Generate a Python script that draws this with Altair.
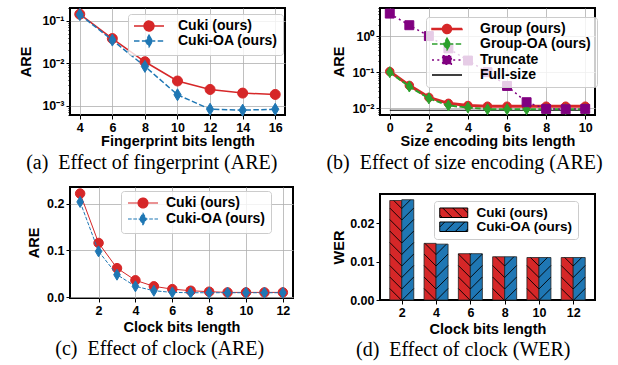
import altair as alt
import pandas as pd

# ---------------- data ----------------
# (a) fingerprint bits length vs ARE
fp_bits = [4, 6, 8, 10, 12, 14, 16]
fp_cuki = [0.143, 0.038, 0.0108, 0.0038, 0.0024, 0.00197, 0.00183]
fp_cuki_oa = [0.140, 0.035, 0.0084, 0.0018, 0.00082, 0.00078, 0.00082]

# (b) size encoding bits length vs ARE
se_bits = [0, 1, 2, 3, 4, 5, 6, 7, 8, 9, 10]
se_group = [0.104, 0.043, 0.020, 0.0137, 0.0119, 0.0114, 0.0114, 0.0114, 0.0114, 0.0114, 0.0114]
se_group_oa = [0.100, 0.040, 0.0188, 0.0119, 0.0105, 0.0094, 0.0094, 0.0094, 0.0094, 0.0094, 0.0094]
se_truncate = [4.2, 2.0, 1.0, 0.456, 0.21, 0.10, 0.0415, 0.0147, 0.0096, 0.0094, 0.0096]
se_full_size = 0.0088

# (c) clock bits length vs ARE
clk_bits = [1, 2, 3, 4, 5, 6, 7, 8, 9, 10, 11, 12]
clk_cuki = [0.222, 0.116, 0.062, 0.036, 0.023, 0.017, 0.0136, 0.0115, 0.010, 0.010, 0.010, 0.010]
clk_cuki_oa = [0.204, 0.098, 0.048, 0.023, 0.0136, 0.010, 0.0093, 0.0093, 0.0093, 0.0093, 0.0093, 0.0093]

# (d) clock bits length vs WER
wer_bits = [2, 4, 6, 8, 10, 12]
wer_cuki = [0.0260, 0.0148, 0.0121, 0.0113, 0.0111, 0.0111]
wer_cuki_oa = [0.0262, 0.0146, 0.0121, 0.0113, 0.0111, 0.0111]

# ---------------- styling ----------------
RED = "#d62728"
BLUE = "#1f77b4"
GREEN = "#2ca02c"
PURPLE = "#800080"
SANS = "Liberation Sans"
SERIF = "Liberation Serif"
GRID = "#b0b0b0"

C, COA = "Cuki (ours)", "Cuki-OA (ours)"
G, GOA, TR, FS = "Group (ours)", "Group-OA (ours)", "Truncate", "Full-size"

DIAMOND = "M0,-1L0.6,0L0,1L-0.6,0Z"

# legend glyphs: unit = 6 px (symbolSize 144)
LH = 2.5  # half line length in units (15 px)


def circ(r):
    return f"M{-r},0A{r},{r} 0 1,0 {r},0A{r},{r} 0 1,0 {-r},0Z"


L_CIRCLE = f"M{-LH},0L{LH},0" + circ(0.82)
L_THICK_CIRCLE = f"M{-LH},-0.1L{LH},-0.1L{LH},0.1L{-LH},0.1Z" + circ(0.75)
L_DIAMOND = f"M{-LH},0L{LH},0M0,-0.95L0.57,0L0,0.95L-0.57,0Z"
L_SQUARE = f"M{-LH},0L{LH},0M-0.72,-0.72L0.72,-0.72L0.72,0.72L-0.72,0.72Z"
L_LINE = f"M{-LH},0L{LH},0"


def long_df(xs, named):
    rows = []
    for name, vals in named:
        for xv, yv in zip(xs, vals):
            rows.append({"x": xv, "series": name, "y": yv})
    return pd.DataFrame(rows)


def caption(text, off):
    return alt.TitleParams(text=text, orient="bottom", anchor="middle", frame="bounds",
                           font=SERIF, fontSize=20, fontWeight="normal", color="black",
                           offset=off)


def log_axis(title, domain, ext):
    vals = []
    for e in range(-5, 2):
        for m in range(1, 10):
            v = m * 10.0 ** e
            if domain[0] <= v <= domain[1]:
                vals.append(v)
    ex = "round(log(datum.value)/LN10)"
    maj = f"abs(log(datum.value)/LN10 - {ex}) < 1e-6"
    sup = {-3: "⁻³", -2: "⁻²", -1: "⁻¹", 0: "⁰"}
    inner = " : ".join(f"{ex} == {k} ? '10{v}'" for k, v in sup.items()) + " : ''"
    return alt.Axis(title=title, values=vals, labelExpr=f"{maj} ? ({inner}) : ''",
                    tickSize={"condition": {"test": maj, "value": 4}, "value": 2},
                    gridOpacity={"condition": {"test": maj, "value": 1}, "value": 0},
                    grid=True, minExtent=ext, maxExtent=ext)


def legend_params(lx, ly, sym_off, lab_off, row_pad, sw=1.5, fs=14):
    return alt.Legend(title=None, orient="none", legendX=lx, legendY=ly, symbolSize=144,
                      fillColor="rgba(255,255,255,0.8)", strokeColor="#cccccc",
                      cornerRadius=3, padding=5, labelFont=SANS, labelFontSize=fs,
                      labelFontWeight="bold", labelColor="black", rowPadding=row_pad,
                      symbolOffset=sym_off, labelOffset=lab_off, symbolStrokeWidth=sw)


def legend_layer(df, names, fills, strokes, paths, dashes, leg):
    sc = lambda rng: alt.Scale(domain=names, range=rng)
    enc = dict(
        fill=alt.Fill("series:N", scale=sc(fills), legend=leg),
        stroke=alt.Stroke("series:N", scale=sc(strokes), legend=leg),
        shape=alt.Shape("series:N", scale=sc(paths), legend=leg),
    )
    if dashes:
        enc["strokeDash"] = alt.StrokeDash("series:N", scale=sc(dashes), legend=leg)
    return alt.Chart(df).transform_filter("false").mark_point(opacity=1, filled=True).encode(**enc)


def series_layers(df, xenc, yenc, specs):
    layers = []
    for name, color, width, dash, shape, size in specs:
        base = alt.Chart(df).transform_filter(alt.datum.series == name)
        lk = dict(color=color, strokeWidth=width)
        if dash:
            lk["strokeDash"] = dash
        layers.append(base.mark_line(**lk).encode(x=xenc, y=yenc))
        if shape:
            layers.append(base.mark_point(filled=True, opacity=1, fill=color, stroke=color,
                                          strokeWidth=1, shape=shape, size=size)
                          .encode(x=xenc, y=yenc))
    return layers


# ---------------- panel (a) ----------------
a_df = long_df(fp_bits, [(C, fp_cuki), (COA, fp_cuki_oa)])
a_y = [6.0e-4, 0.2]
a_x = alt.X("x:Q", scale=alt.Scale(domain=[3.4, 16.6], nice=False, zero=False),
            axis=alt.Axis(title="Fingerprint bits length", values=fp_bits, grid=True))
a_yenc = alt.Y("y:Q", scale=alt.Scale(type="log", domain=a_y, nice=False),
               axis=log_axis("ARE", a_y, 35.5))
a_layers = series_layers(a_df, a_x, a_yenc, [
    (C, RED, 1.5, None, "circle", 100),
    (COA, BLUE, 1.5, [5.5, 2.4], DIAMOND, 144),
])
a_layers.append(legend_layer(a_df, [C, COA], [RED, BLUE], [RED, BLUE], [L_CIRCLE, L_DIAMOND],
                             [[1, 0], [5.5, 2.4]], legend_params(58, 6, 9, 22, -4)))
panel_a = alt.layer(*a_layers).properties(
    width=215, height=107, title=caption("(a)\u00a0\u00a0Effect of fingerprint (ARE)", 4.5))

# ---------------- panel (b) ----------------
b_df = pd.concat([
    long_df(se_bits, [(G, se_group), (GOA, se_group_oa), (TR, se_truncate)]),
    long_df([se_bits[0], se_bits[-1]], [(FS, [se_full_size, se_full_size])]),
])
b_y = [0.0065, 6.0]
b_x = alt.X("x:Q", scale=alt.Scale(domain=[-0.5, 10.5], nice=False, zero=False),
            axis=alt.Axis(title="Size encoding bits length", values=[0, 2, 4, 6, 8, 10], grid=True))
b_yenc = alt.Y("y:Q", scale=alt.Scale(type="log", domain=b_y, nice=False),
               axis=log_axis("ARE", b_y, 32.5))
b_layers = series_layers(b_df, b_x, b_yenc, [
    (FS, "black", 1, None, None, 0),
    (G, RED, 3, None, "circle", 72),
    (GOA, GREEN, 2, [5.5, 2.4], DIAMOND, 121),
    (TR, PURPLE, 1.5, [2, 3.3], "square", 80),
])
b_layers.append(legend_layer(b_df, [G, GOA, TR, FS], [RED, GREEN, PURPLE, "black"],
                             [RED, GREEN, PURPLE, "black"],
                             [L_THICK_CIRCLE, L_DIAMOND, L_SQUARE, L_LINE],
                             [[1, 0], [5.5, 2.4], [2, 3.3], [1, 0]],
                             legend_params(46, 9, 9, 26, -4.8)))
panel_b = alt.layer(*b_layers).properties(
    width=215, height=107, title=caption("(b)\u00a0\u00a0Effect of size encoding (ARE)", 4.5))

# ---------------- panel (c) ----------------
c_df = long_df(clk_bits, [(C, clk_cuki), (COA, clk_cuki_oa)])
c_x = alt.X("x:Q", scale=alt.Scale(domain=[0.45, 12.55], nice=False, zero=False),
            axis=alt.Axis(title="Clock bits length", values=[2, 4, 6, 8, 10, 12], grid=True,
                          titlePadding=4))
c_yenc = alt.Y("y:Q", scale=alt.Scale(domain=[-0.002, 0.236], nice=False, zero=False),
               axis=alt.Axis(title="ARE", values=[0.0, 0.1, 0.2], format=".1f", grid=True,
                             minExtent=27.5, maxExtent=27.5))
c_layers = series_layers(c_df, c_x, c_yenc, [
    (C, RED, 1, None, "circle", 90),
    (COA, BLUE, 1, [3.7, 1.6], DIAMOND, 121),
])
c_layers.append(legend_layer(c_df, [C, COA], [RED, BLUE], [RED, BLUE], [L_CIRCLE, L_DIAMOND],
                             [[1, 0], [3.7, 1.6]], legend_params(51, 4, 10, 16, -1, sw=1.2)))
panel_c = alt.layer(*c_layers).properties(
    width=223, height=111, title=caption("(c)\u00a0\u00a0Effect of clock (ARE)", 4.5))

# ---------------- panel (d) ----------------
D_W, D_H = 215, 106
BW = 0.35
D_XDOM = [-0.635, len(wer_bits) - 1 + 0.635]
D_YDOM = [0, 0.0277]
PXX = D_W / (D_XDOM[1] - D_XDOM[0])
PXY = D_H / (D_YDOM[1] - D_YDOM[0])
HS = 11.5

d_rows = []
for i, (b, v1, v2) in enumerate(zip(wer_bits, wer_cuki, wer_cuki_oa)):
    d_rows.append({"idx": i, "series": C, "value": v1})
    d_rows.append({"idx": i, "series": COA, "value": v2})
d_df = pd.DataFrame(d_rows)

d_xs = alt.Scale(domain=D_XDOM, nice=False, zero=False)
d_ys = alt.Scale(domain=D_YDOM, nice=False)
lab = "[" + ",".join(f"'{b}'" for b in wer_bits) + "][datum.value]"
is_c = f"datum.series == '{C}'"
d_xaxis = alt.Axis(title="Clock bits length", values=list(range(len(wer_bits))),
                   labelExpr=lab, grid=False, titlePadding=4)
d_yaxis = alt.Axis(title="WER", values=[0, 0.01, 0.02], format=".2f", grid=False,
                   minExtent=32.5, maxExtent=32.5)

d_layers = []
for name, color in [(C, RED), (COA, BLUE)]:
    d_layers.append(
        alt.Chart(d_df).transform_filter(alt.datum.series == name).transform_calculate(
            x0=f"datum.idx + ({is_c} ? {-BW} : 0)",
        ).transform_calculate(
            x1=f"datum.x0 + {BW}", zero="0",
        ).mark_rect(fill=color, stroke="#222222", strokeWidth=0.8).encode(
            x=alt.X("x0:Q", scale=d_xs, axis=d_xaxis),
            x2="x1:Q",
            y=alt.Y("value:Q", scale=d_ys, axis=d_yaxis),
            y2="zero:Q",
        )
    )

hatch = alt.Chart(d_df).transform_calculate(
    x0=f"datum.idx + ({is_c} ? {-BW} : 0)",
    W=f"{BW * PXX}",
    H=f"datum.value * {PXY}",
).transform_calculate(
    kk=f"sequence(0, ceil((datum.W + datum.H) / {HS}) + 1)",
).transform_flatten(["kk"]).transform_calculate(
    c=f"{is_c} ? datum.kk * {HS} : datum.kk * {HS} - datum.W",
).transform_calculate(
    u0=f"{is_c} ? max(0, datum.c - datum.H) : max(0, -datum.c)",
    u1=f"{is_c} ? min(datum.W, datum.c) : min(datum.W, datum.H - datum.c)",
).transform_filter("datum.u1 - datum.u0 > 0.3").transform_calculate(
    v0=f"{is_c} ? datum.c - datum.u0 : datum.u0 + datum.c",
    v1=f"{is_c} ? datum.c - datum.u1 : datum.u1 + datum.c",
).transform_calculate(
    hx0=f"datum.x0 + datum.u0 / {PXX}",
    hx1=f"datum.x0 + datum.u1 / {PXX}",
    hy0=f"datum.v0 / {PXY}",
    hy1=f"datum.v1 / {PXY}",
).mark_rule(color="black", strokeWidth=0.9).encode(
    x=alt.X("hx0:Q", scale=d_xs, axis=d_xaxis), x2="hx1:Q",
    y=alt.Y("hy0:Q", scale=d_ys, axis=d_yaxis), y2="hy1:Q",
)
d_layers.append(hatch)


def hatch_patch(direction, hw=14 / 6, hh=4.75 / 6, step=10 / 6):
    parts = [f"M{-hw:.3f},{-hh:.3f}L{hw:.3f},{-hh:.3f}L{hw:.3f},{hh:.3f}L{-hw:.3f},{hh:.3f}Z"]
    c = -hw - hh + step / 2
    while c <= hw + hh:
        if direction == "\\":
            xa, xb = max(-hw, -hh - c), min(hw, hh - c)
            if xb - xa > 0.05:
                parts.append(f"M{xa:.3f},{xa + c:.3f}L{xb:.3f},{xb + c:.3f}")
        else:
            xa, xb = max(-hw, c - hh), min(hw, c + hh)
            if xb - xa > 0.05:
                parts.append(f"M{xa:.3f},{c - xa:.3f}L{xb:.3f},{c - xb:.3f}")
        c += step
    return "".join(parts)


d_layers.append(legend_layer(d_df, [C, COA], [RED, BLUE], ["black", "black"],
                             [hatch_patch("\\"), hatch_patch("/")], None,
                             legend_params(54, 7, 8, 16, -1, sw=1, fs=13.5)))
panel_d = alt.layer(*d_layers).properties(
    width=D_W, height=D_H, title=caption("(d)\u00a0\u00a0Effect of clock (WER)", 3.5))

# ---------------- layout ----------------
IND = dict(fill="independent", stroke="independent", shape="independent",
           strokeDash="independent")

col1 = alt.vconcat(panel_a, panel_c, spacing=11).resolve_scale(**IND).resolve_legend(**IND)
col2 = alt.vconcat(panel_b, panel_d, spacing=19).resolve_scale(**IND).resolve_legend(**IND)

chart = alt.hconcat(col1, col2, spacing=31).resolve_scale(**IND).resolve_legend(**IND).properties(
    padding={"left": 17, "top": 5, "right": 5, "bottom": 5}, background="white"
).configure_view(
    stroke="black", strokeWidth=2
).configure_axis(
    labelFont=SANS, labelFontSize=12.5, labelFontWeight="bold", labelColor="black",
    titleFont=SANS, titleFontSize=14.5, titleFontWeight="bold", titleColor="black",
    domain=False, tickColor="black", tickSize=4, tickWidth=1,
    gridColor=GRID, gridWidth=0.8, labelPadding=2, titlePadding=1,
)

chart.save("out.html", embed_options={"renderer": "svg", "actions": False})
